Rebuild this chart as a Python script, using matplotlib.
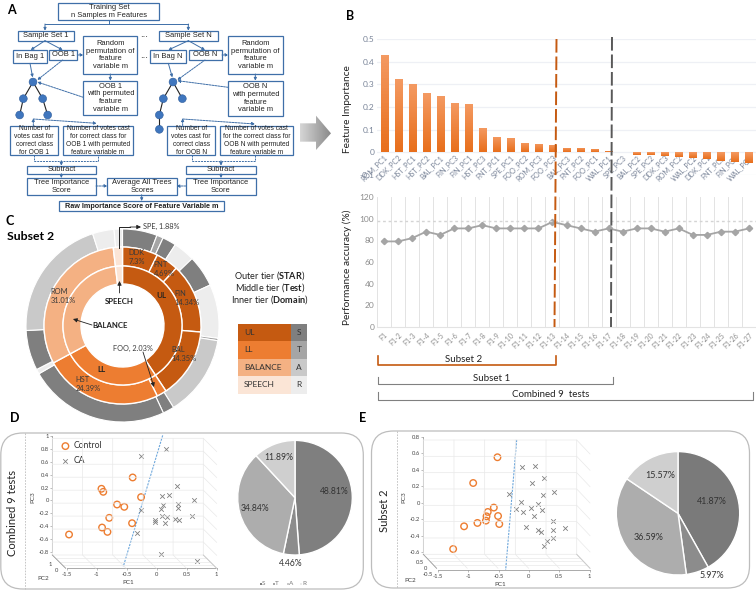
import numpy as np
import matplotlib
matplotlib.use("Agg")
import matplotlib.pyplot as plt
from matplotlib.patches import FancyBboxPatch, Polygon, Circle, Rectangle

W, H = 756, 592

plt.rcParams["font.family"] = ["Lato", "DejaVu Sans"]
plt.rcParams["mathtext.fontset"] = "custom"
plt.rcParams["mathtext.bf"] = "Lato:bold"
plt.rcParams["mathtext.rm"] = "Lato"

# panel B
feature_names = ["ROM_PC1", "DDK_PC2", "HST_PC1", "HST_PC2", "BAL_PC1", "FIN_PC3", "FIN_PC1", "HST_PC3", "FNT_PC1",
                 "SPE_PC1", "FOO_PC2", "ROM_PC3", "FOO_PC3", "BAL_PC3", "FNT_PC2", "FOO_PC1", "WAL_PC1", "SPE_PC3",
                 "BAL_PC2", "SPE_PC2", "DDK_PC3", "ROM_PC2", "WAL_PC2", "DDK_PC1", "FNT_PC3", "FIN_PC2", "WAL_PC3"]
importance = [0.43, 0.325, 0.303, 0.26, 0.25, 0.217, 0.212, 0.108, 0.068, 0.065, 0.04, 0.038, 0.033, 0.02, 0.018,
              0.014, 0.006, 0.0, -0.011, -0.012, -0.016, -0.022, -0.026, -0.031, -0.037, -0.043, -0.048]
accuracy = [79, 79, 82, 88, 85, 91, 91, 94, 91, 91, 91, 91, 97, 94, 91, 88, 91, 88, 91, 91, 88, 91, 85, 85, 88, 88, 91]
step_labels = ["F1"] + [f"F1-{i}" for i in range(2, 28)]

# panel C
domain_values = [40.68, 26.42, 31.01, 1.89]
test_values = [7.3, 4.69, 14.34, 14.35, 2.03, 24.39, 31.01, 1.88]
star_values = [5.8, 1.1, 2.3, 3.6, 5.3, 9.0, 0.4, 13.6, 1.9, 23.6, 0.8, 6.7, 20.8, 3.6, 1.4]
star_kinds = "STSRSRTASSRSARR"

# panel D
d_control_pc1 = [-0.40, -0.92, -0.89, -0.26, -0.66, -0.54, -0.79, -0.41, -0.91, -0.82, -1.46]
d_control_pc3 = [0.356, 0.181, 0.134, 0.052, -0.062, -0.098, -0.268, -0.351, -0.418, -0.485, -0.526]
d_ca_pc1 = [0.16, -0.26, 0.34, 0.21, 0.09, 0.62, 0.36, 0.11, 0.08, 0.36, -0.26, 0.09, 0.18, 0.59, 0.31, 0.37, -0.03,
            -0.02, 0.14, -0.33, 0.08, 0.67]
d_ca_pc3 = [0.795, 0.681, 0.227, 0.088, 0.062, 0.015, -0.062, -0.077, -0.129, -0.119, -0.15, -0.232, -0.253, -0.232,
            -0.284, -0.294, -0.294, -0.335, -0.341, -0.495, -0.826, -0.934]
d_pie = [48.81, 4.46, 34.84, 11.89]

# panel E
e_control_pc1 = [-0.52, -0.92, -0.58, -0.68, -0.70, -0.71, -0.51, -0.49, -0.85, -1.07, -1.25]
e_control_pc3 = [0.55, 0.238, -0.06, -0.113, -0.166, -0.218, -0.162, -0.259, -0.246, -0.287, -0.562]
e_ca_pc1 = [-0.11, 0.10, 0.25, 0.05, -0.33, 0.23, 0.41, -0.14, 0.15, 0.04, -0.22, 0.21, -0.10, 0.08, 0.40, 0.59,
            -0.05, 0.15, 0.19, 0.39, 0.40, 0.30, 0.24]
e_ca_pc3 = [0.436, 0.448, 0.295, 0.238, 0.105, 0.097, 0.129, 0.008, -0.016, -0.061, -0.073, -0.085, -0.113, -0.166,
            -0.222, -0.303, -0.295, -0.335, -0.352, -0.335, -0.432, -0.469, -0.521]
e_pie = [41.87, 5.97, 36.59, 15.57]

ORANGE = "#ED7D31"
DARK_ORANGE = "#C55A11"
BLUE = "#3F6FA8"
STAR_COLORS = {"S": "#7F7F7F", "T": "#A5A5A5", "A": "#C9C9C9", "R": "#EDEDED"}


def axes_px(x0, y0, x1, y1, **kw):
    return fig.add_axes([x0 / W, 1 - y1 / H, (x1 - x0) / W, (y1 - y0) / H], **kw)


fig = plt.figure(figsize=(W / 100, H / 100), dpi=100)

# pixel overlay for everything that is a diagram rather than a chart
ov = axes_px(0, 0, W, H, zorder=10)
ov.set_xlim(0, W)
ov.set_ylim(H, 0)
ov.axis("off")
ov.patch.set_alpha(0)


def label(x, y, s, size=7, color="#222222", **kw):
    kw.setdefault("ha", "center")
    kw.setdefault("va", "center")
    return ov.text(x, y, s, fontsize=size, color=color, **kw)


# ---- panel A (coordinates are 3x crop pixels) ----
def box(x0, y0, x1, y1, s, weight="normal", size=5.4):
    ov.add_patch(Rectangle((x0 / 3, y0 / 3), (x1 - x0) / 3, (y1 - y0) / 3, fc="white", ec=BLUE, lw=0.9))
    ov.text((x0 + x1) / 6, (y0 + y1) / 6, s, ha="center", va="center", fontsize=size, family="Liberation Sans",
            color="#222222", weight=weight, linespacing=1.15)


def arrow(x0, y0, x1, y1, dashed=False):
    ov.annotate("", xy=(x1 / 3, y1 / 3), xytext=(x0 / 3, y0 / 3),
                arrowprops=dict(arrowstyle="-|>", color=BLUE, lw=0.7, mutation_scale=4, shrinkA=0, shrinkB=0,
                                linestyle=(0, (2, 1)) if dashed else "-"))


def path(xs, ys, dashed=False):
    ov.plot(np.array(xs) / 3, np.array(ys) / 3, color=BLUE, lw=0.7, ls=(0, (2, 1)) if dashed else "-")


box(175, 8, 478, 60, "Training Set\nn Samples m Features")
box(53, 92, 222, 122, "Sample Set 1")
box(476, 92, 654, 122, "Sample Set N")
box(40, 150, 140, 190, "In Bag 1")
box(147, 150, 232, 180, "OOB 1")
box(250, 108, 412, 222, "Random\npermutation of\nfeature\nvariable m")
box(250, 242, 412, 345, "OOB 1\nwith permuted\nfeature\nvariable m")
box(450, 150, 558, 190, "In Bag N")
box(566, 150, 666, 180, "OOB N")
box(685, 108, 848, 222, "Random\npermutation of\nfeature\nvariable m")
box(685, 242, 848, 348, "OOB N\nwith permuted\nfeature\nvariable m")
box(30, 377, 175, 466, "Number of\nvotes cast for\ncorrect class\nfor OOB 1", size=4.8)
box(188, 377, 400, 466, "Number of votes cast\nfor correct class for\nOOB 1 with permuted\nfeature variable m", size=4.8)
box(502, 377, 645, 466, "Number of\nvotes cast for\ncorrect class\nfor OOB N", size=4.8)
box(660, 377, 878, 466, "Number of votes cast\nfor the correct class for\nOOB N with permuted\nfeature variable m", size=4.8)
box(80, 497, 288, 521, "Subtract")
box(558, 497, 767, 521, "Subtract")
box(80, 534, 288, 584, "Tree Importance\nScore")
box(558, 534, 767, 584, "Tree Importance\nScore")
box(322, 534, 530, 584, "Average All Trees\nScores")
box(178, 603, 673, 634, "Raw Importance Score of Feature Variable m", weight="bold", size=5.2)

path([326, 326], [60, 72])
path([135, 565], [72, 72])
arrow(135, 72, 135, 92)
arrow(565, 72, 565, 92)
arrow(135, 122, 92, 150)
arrow(135, 122, 188, 150)
arrow(565, 122, 505, 150)
arrow(565, 122, 615, 150)
arrow(232, 165, 250, 165, True)
arrow(666, 165, 685, 165, True)
arrow(331, 222, 331, 242)
arrow(766, 222, 766, 242)
arrow(90, 190, 98, 232)
arrow(505, 190, 517, 232)
arrow(188, 180, 112, 240, True)
arrow(615, 180, 532, 240, True)
arrow(250, 292, 112, 246, True)
arrow(685, 262, 532, 242, True)
arrow(100, 377, 100, 355, True)
arrow(100, 357, 290, 370, True)
arrow(548, 377, 548, 355, True)
arrow(548, 357, 765, 372, True)
path([103, 103, 295, 295], [466, 482, 482, 466], True)
path([575, 575, 765, 765], [466, 482, 482, 466], True)
arrow(184, 482, 184, 497)
arrow(663, 482, 663, 497)
arrow(184, 521, 184, 534)
arrow(663, 521, 663, 534)
arrow(288, 558, 322, 558, True)
arrow(558, 558, 530, 558, True)
arrow(425, 584, 425, 603)
label(432 / 3, 103 / 3, "...", 7, family="Liberation Sans")
label(432 / 3, 165 / 3, "...", 7, family="Liberation Sans")

# decision trees
for a, b in [((99, 246), (70, 296)), ((99, 246), (128, 296)), ((70, 296), (59, 345)), ((128, 296), (143, 345)),
             ((519, 246), (490, 296)), ((519, 246), (547, 296)), ((490, 296), (478, 345)), ((478, 345), (478, 388))]:
    ov.plot([a[0] / 3, b[0] / 3], [a[1] / 3, b[1] / 3], color="#222222", lw=0.8, zorder=3)
for c in [(99, 246), (70, 296), (128, 296), (59, 345), (143, 345), (519, 246), (490, 296), (547, 296), (478, 345),
          (478, 388)]:
    ov.add_patch(Circle((c[0] / 3, c[1] / 3), 3.9, fc="#3F76BE", ec="#2E5C9A", lw=0.4, zorder=4))

# big gradient arrow between A and B
arrow_shape = Polygon(np.array([(900, 370), (948, 370), (948, 347), (993, 400), (948, 450), (948, 425), (900, 425)]) / 3,
                      fc="none", ec="none")
ov.add_patch(arrow_shape)
grad = ov.imshow(np.linspace(0, 1, 64).reshape(1, -1), extent=(300, 331, 150, 115), aspect="auto",
                 cmap=matplotlib.colors.LinearSegmentedColormap.from_list("g", ["#D6D6D6", "#8A8A8A"]))
grad.set_clip_path(arrow_shape)
ov.set_xlim(0, W)
ov.set_ylim(H, 0)

# ---- panel B ----
ax_bar = axes_px(377, 39, 756, 175)
x = np.arange(len(importance))
bars = ax_bar.bar(x, importance, width=0.5, color="none")
fade = matplotlib.colors.LinearSegmentedColormap.from_list("bar", ["#F49A62", "#E86F1C"])
for b, v in zip(bars, importance):
    if v == 0:
        continue
    im = ax_bar.imshow(np.linspace(0, 1, 32).reshape(-1, 1), cmap=fade, aspect="auto", zorder=2,
                       extent=(b.get_x(), b.get_x() + b.get_width(), min(v, 0), max(v, 0)))
    im.set_clip_path(b)
# the spine move resets the tick setup, so it goes first
ax_bar.spines["bottom"].set_position(("data", 0))
ax_bar.set_xlim(-0.5, 26.5)
ax_bar.set_ylim(-0.1, 0.5)
ax_bar.set_yticks([-0.1, 0, 0.1, 0.2, 0.3, 0.4, 0.5])
ax_bar.set_yticklabels(["-0.1", "0", "0.1", "0.2", "0.3", "0.4", "0.5"], fontsize=6, color="#7A8599")
ax_bar.set_xticks(x)
ax_bar.set_xticklabels(feature_names, rotation=45, ha="right", rotation_mode="anchor", fontsize=5.2, color="#7A8599")
ax_bar.tick_params(length=0, pad=2)
ax_bar.tick_params(axis="x", pad=1)
ax_bar.grid(axis="y", color="#EEF0F5", lw=0.9)
ax_bar.set_axisbelow(True)
for s in ax_bar.spines.values():
    s.set_visible(False)
ax_bar.patch.set_alpha(0)

ax_line = axes_px(377, 197, 756, 327)
ax_line.plot(x, accuracy, color="#A5A5A5", lw=1.3, marker="D", ms=3.2)
ax_line.axhline(97.5, color="#D4D4D4", lw=1, ls=(0, (2, 2)))
ax_line.set_xlim(-0.5, 26.5)
ax_line.set_ylim(0, 120)
ax_line.set_yticks(range(0, 121, 20))
ax_line.tick_params(axis="y", labelsize=6, labelcolor="#8C8C8C", length=0, pad=2)
ax_line.set_xticks(x)
ax_line.set_xticklabels(step_labels, rotation=45, ha="right", rotation_mode="anchor", fontsize=5, color="#8C8C8C")
ax_line.tick_params(axis="x", length=0, pad=3)
ax_line.set_xticks(np.arange(-0.5, 27), minor=True)
ax_line.tick_params(axis="x", which="minor", length=0)
ax_line.grid(axis="x", which="minor", color="#E3E3E3", lw=0.7)
for name in ("left", "right", "top"):
    ax_line.spines[name].set_visible(False)
ax_line.spines["bottom"].set_color("#E3E3E3")
ax_line.patch.set_alpha(0)

label(347, 109, "Feature Importance", 7.3, rotation=90)
label(347, 267, "Performance accuracy (%)", 7.3, rotation=90)
ov.plot([556.5, 554.5], [39, 327], color=DARK_ORANGE, lw=1.4, ls=(0, (7, 2)))
ov.plot([612, 611], [37, 327], color="#595959", lw=1.4, ls=(0, (7, 2)))

# brackets under B
ov.plot([378, 378, 556, 556], [356, 364.5, 364.5, 356], color=DARK_ORANGE, lw=1.2)
label(464, 359, "Subset 2", 7)
ov.plot([378, 378, 612.7, 612.7], [377, 383.5, 383.5, 377], color="#808080", lw=0.8)
label(492, 378.5, "Subset 1", 7)
ov.plot([378, 378, 753, 753], [392, 400, 400, 392], color="#808080", lw=0.8)
label(551, 394.5, "Combined 9  tests", 7)

# ---- panel C ----
cx, cy, R = 122.5, 325.5, 96.5
ax_donut = axes_px(cx - R, cy - R, cx + R, cy + R)
ring = dict(startangle=90, counterclock=False)
ax_donut.pie(star_values, radius=1.0, colors=[STAR_COLORS[k] for k in star_kinds],
             wedgeprops=dict(width=18 / R, edgecolor="white", linewidth=0.8), **ring)
ax_donut.pie(test_values, radius=78.5 / R, colors=[DARK_ORANGE] * 4 + [ORANGE] * 2 + ["#F4B183", "#FBE5D6"],
             wedgeprops=dict(width=19 / R, edgecolor="white", linewidth=1), **ring)
ax_donut.pie(domain_values, radius=59.5 / R, colors=[DARK_ORANGE, ORANGE, "#F4B183", "#FBE5D6"],
             wedgeprops=dict(width=18 / R, edgecolor="white", linewidth=1), **ring)
ax_donut.set_xlim(-1, 1)
ax_donut.set_ylim(-1, 1)

for xt, yt, s in [(137, 257, "DDK\n7.3%"), (164, 269, "FNT\n4.69%"), (187, 298, "FIN\n14.34%"),
                  (184, 354, "BAL\n14.35%"), (88, 384, "HST\n24.39%"), (63, 296, "ROM\n31.01%")]:
    label(xt, yt, s, 5.4, color="#3a3a3a", linespacing=1.3, ma="left")
label(133, 348, "FOO, 2.03%", 5.3, color="#3a3a3a")
label(161, 226, "SPE, 1.88%", 5.3, color="#3a3a3a")
label(161, 295, "UL", 5.8, weight="bold")
label(102, 370, "LL", 5.8, weight="bold")
label(119, 302, "SPEECH", 5.6, weight="bold")
label(110, 325, "BALANCE", 5.6, weight="bold")


def c_arrow(x0, y0, x1, y1, color="#222222"):
    ov.annotate("", xy=(x1, y1), xytext=(x0, y0),
                arrowprops=dict(arrowstyle="-|>", color=color, lw=0.6, mutation_scale=6, shrinkA=0, shrinkB=0))


ov.plot([119, 119, 130], [248, 227, 227], color="#222222", lw=0.7)
c_arrow(130, 227, 141, 227)
c_arrow(119.5, 293, 119.5, 281)
c_arrow(92, 325, 73, 319)
c_arrow(143, 352, 154, 387)

label(270, 275.7, r"Outer tier ($\mathbf{STAR}$)", 6.6)
label(270, 287.3, r"Middle tier ($\mathbf{Test}$)", 6.6)
label(270, 299.3, r"Inner tier ($\mathbf{Domain}$)", 6.6)

for i, (name, kind, col) in enumerate([("UL", "S", DARK_ORANGE), ("LL", "T", ORANGE), ("BALANCE", "A", "#F4B183"),
                                       ("SPEECH", "R", "#FBE5D6")]):
    y0 = 323.5 + i * 17.5
    ov.add_patch(Rectangle((238, y0), 53, 17.5, fc=col, ec="none"))
    ov.add_patch(Rectangle((291, y0), 16, 17.5, fc=STAR_COLORS[kind], ec="none"))
    label(244, y0 + 8.75, name, 6, color="#333333", ha="left")
    label(299, y0 + 8.75, kind, 6, color="#333333")

# ---- panels D and E ----
for xr, yr, wr, hr in [(0.8, 433, 362.5, 156), (371.5, 431, 378, 157)]:
    ov.add_patch(FancyBboxPatch((xr + 22, yr + 22), wr - 44, hr - 44, boxstyle="round,pad=22,rounding_size=22",
                                fc="none", ec="#BDBDBD", lw=0.9))
ov.plot([25, 25], [433, 589], color="#BDBDBD", lw=0.6, ls=(0, (2, 1.5)))
ov.plot([397, 397], [431, 588], color="#BDBDBD", lw=0.6, ls=(0, (2, 1.5)))
label(13, 513, "Combined 9 tests", 8, rotation=90)
label(384, 511, "Subset 2", 8, rotation=90)


def scatter_3d(rect, wall, pc1_lim, pc3_lim, control, ca, cut, xticks, yticks, pc_pos):
    """2D scatter drawn in front of a hand-made 3D box (wall gives px: left, right, top, bottom, front dx, front dy)."""
    l, r, t, b, dx, dy = wall
    ax = axes_px(*rect, zorder=5)
    grid = "#E9E9E9"
    n = len(xticks)
    for i in range(n):
        xw = l + (r - l) * i / (n - 1)
        ov.plot([xw, xw, xw + dx], [t, b, b + dy], color=grid, lw=0.5, zorder=1)
    m = len(yticks)
    for j in range(m):
        yw = b - (b - t) * j / (m - 1)
        ov.plot([l, r, r + dx], [yw, yw, yw + dy], color=grid, lw=0.5, zorder=1)
    for k in range(1, 4):
        ov.plot([l + dx * k / 4, r + dx * k / 4], [b + dy * k / 4] * 2, color=grid, lw=0.5, zorder=1)
    ov.plot([l, l + dx], [b, b + dy], color="#9A9A9A", lw=0.6)
    ov.plot([r, r + dx], [b, b + dy], color="#C8C8C8", lw=0.6)

    ax.scatter(*ca, marker="x", s=11, color="#7F7F7F", linewidths=0.6, label="CA", zorder=3)
    ax.scatter(*control, marker="o", s=22, facecolors="none", edgecolors=ORANGE, linewidths=1.0, label="Control",
               zorder=3)
    ax.plot(*cut, color="#6FA8DC", lw=0.8, ls=(0, (2, 1)))
    ax.set_xlim(*pc1_lim)
    ax.set_ylim(*pc3_lim)
    ax.set_xticks(xticks)
    ax.set_xticklabels([f"{v:g}" for v in xticks])
    ax.set_yticks(yticks)
    ax.set_yticklabels([f"{v:g}" for v in yticks])
    ax.tick_params(labelsize=4.2, labelcolor="#444444", length=1.5, width=0.4, color="#888888", pad=1)
    ax.patch.set_alpha(0)
    for name in ("top", "right"):
        ax.spines[name].set_visible(False)
    ax.spines["left"].set_bounds(yticks[0], yticks[-1])
    ax.spines["bottom"].set_bounds(xticks[0], xticks[-1])
    for name in ("left", "bottom"):
        ax.spines[name].set_color("#888888")
        ax.spines[name].set_linewidth(0.5)
    label(*pc_pos[0], "PC1", 4.6, color="#444444")
    label(*pc_pos[1], "PC2", 4.6, color="#444444")
    label(*pc_pos[2], "PC3", 4.6, color="#444444", rotation=90)
    return ax


ax_d = scatter_3d((52.3, 433, 216.7, 568.3), (52.3, 203.3, 438.3, 555, 13.4, 13.3),
                  (-1.739, 1.0), (-1.048, 1.043),
                  (d_control_pc1, d_control_pc3), (d_ca_pc1, d_ca_pc3),
                  ([0.10, -0.556], [1.006, -1.02]),
                  [-1.5, -1, -0.5, 0, 0.5, 1], [-0.8, -0.6, -0.4, -0.2, 0, 0.2, 0.4, 0.6, 0.8, 1],
                  [(128, 582), (43, 579), (33, 497)])
handles, names = ax_d.get_legend_handles_labels()
ax_d.legend(handles[::-1], names[::-1], loc="upper left", bbox_to_anchor=(0.03, 0.97), frameon=False, fontsize=6.2,
            handletextpad=0.5, handlelength=0.9, labelspacing=0.65, borderpad=0, labelcolor="#333333")
label(50.5, 564.5, "1", 4.2, color="#444444")
label(57, 571, "0", 4.2, color="#444444")

ax_e = scatter_3d((423.3, 433, 590, 570.3), (423.3, 576.7, 440, 554.3, 13.3, 14),
                  (-1.742, 1.005), (-0.82, 0.844),
                  (e_control_pc1, e_control_pc3), (e_ca_pc1, e_ca_pc3),
                  ([-0.203, -0.385], [0.76, -0.816]),
                  [-1.5, -1, -0.5, 0, 0.5, 1], [-0.6, -0.4, -0.2, 0, 0.2, 0.4, 0.6, 0.8],
                  [(500, 584), (410, 581), (404, 497)])
label(420, 562, "0.5", 4.2, color="#444444")
label(426, 568, "0", 4.2, color="#444444")
label(428, 574.5, "-0.5", 4.2, color="#444444")


def pie_panel(cx, cy, r, values, colors):
    ax = axes_px(cx - r, cy - r, cx + r, cy + r, zorder=6)
    ax.pie(values, radius=1, colors=colors, startangle=90, counterclock=False,
           wedgeprops=dict(edgecolor="white", linewidth=1))
    ax.set_xlim(-1, 1)
    ax.set_ylim(-1, 1)
    return ax


pie_panel(295, 497.7, 57.3, d_pie, ["#7F7F7F", "#8C8C8C", "#ADADAD", "#CFCFCF"])
label(334, 492, "48.81%", 6.2, color="#333333")
label(255, 508.5, "34.84%", 6.2, color="#333333")
label(279, 457, "11.89%", 6.2, color="#333333")
label(290.5, 563, "4.46%", 6.2, color="#333333")
for xl, name in [(264, "S"), (277, "T"), (291, "A"), (304, "R")]:
    ov.add_patch(Rectangle((xl - 4, 582.5), 2, 2, fc=STAR_COLORS[name], ec="none"))
    label(xl, 583.5, name, 4.6, color="#777777", ha="center")

pie_panel(678, 513.3, 61.7, e_pie, ["#7A7A7A", "#8C8C8C", "#ADADAD", "#CFCFCF"])
label(712, 501, "41.87%", 6.4, color="#333333")
label(649, 537, "36.59%", 6.4, color="#333333")
label(660, 475, "15.57%", 6.4, color="#333333")
label(712, 576, "5.97%", 6.4, color="#333333")

# panel letters
for xt, yt, s in [(11, 10, "A"), (350, 16, "B"), (10, 221, "C"), (15, 418, "D"), (363, 418, "E")]:
    label(xt, yt, s, 9, color="black", weight="bold")
label(7, 237, "Subset 2", 8.8, color="black", weight="bold", ha="left")

fig.savefig("out.png", dpi=100)
